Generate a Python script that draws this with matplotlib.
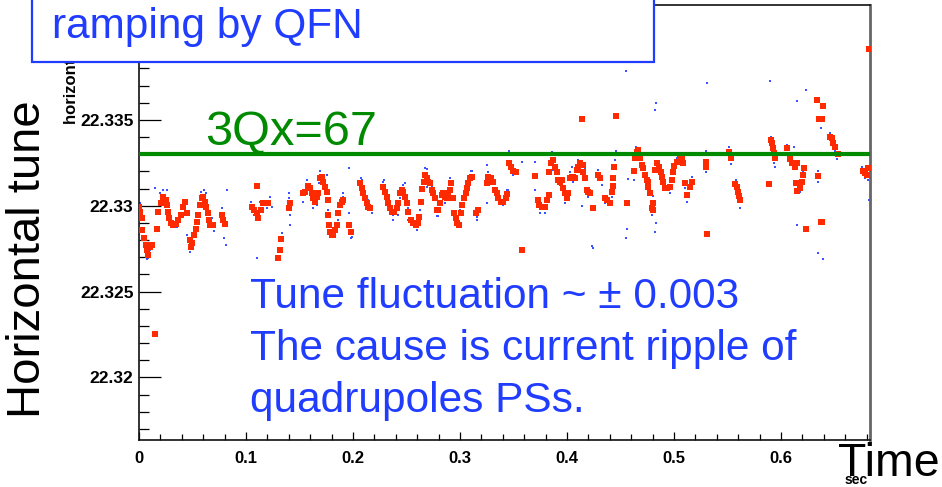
import matplotlib
matplotlib.use('Agg')
from matplotlib import pyplot as plt
from matplotlib.patches import Rectangle
from matplotlib.ticker import MultipleLocator

plt.rcParams['font.family'] = ['Liberation Sans', 'DejaVu Sans']

# tune measured during ramping (red: fitted peak, blue: raw)
red_t = [
    0.0000, 0.0009, 0.0028, 0.0028, 0.0047, 0.0065, 0.0075, 0.0084,
    0.0103, 0.0121, 0.0150, 0.0168, 0.0178, 0.0206, 0.0224, 0.0252,
    0.0262, 0.0271, 0.0280, 0.0299, 0.0318, 0.0346, 0.0364, 0.0393,
    0.0411, 0.0430, 0.0449, 0.0477, 0.0486, 0.0495, 0.0514, 0.0533,
    0.0542, 0.0551, 0.0570, 0.0589, 0.0598, 0.0617, 0.0626, 0.0645,
    0.0654, 0.0664, 0.0692, 0.0776, 0.0785, 0.0804, 0.1056, 0.1075,
    0.1103, 0.1103, 0.1112, 0.1140, 0.1159, 0.1187, 0.1206, 0.1299,
    0.1318, 0.1327, 0.1402, 0.1411, 0.1533, 0.1551, 0.1579, 0.1598,
    0.1617, 0.1626, 0.1645, 0.1664, 0.1673, 0.1692, 0.1710, 0.1720,
    0.1738, 0.1757, 0.1766, 0.1766, 0.1776, 0.1785, 0.1804, 0.1813,
    0.1832, 0.1850, 0.1860, 0.1879, 0.1897, 0.1907, 0.1963, 0.1981,
    0.2065, 0.2084, 0.2093, 0.2112, 0.2131, 0.2140, 0.2159, 0.2280,
    0.2299, 0.2318, 0.2327, 0.2346, 0.2364, 0.2383, 0.2411, 0.2421,
    0.2439, 0.2458, 0.2467, 0.2486, 0.2505, 0.2514, 0.2542, 0.2561,
    0.2589, 0.2607, 0.2617, 0.2636, 0.2645, 0.2664, 0.2673, 0.2692,
    0.2701,
    0.2720, 0.2738, 0.2748, 0.2766, 0.2785, 0.2794, 0.2813, 0.2832,
    0.2841, 0.2860, 0.2879, 0.2888, 0.2907, 0.2916, 0.2935, 0.2944,
    0.2963, 0.2972, 0.2991, 0.3009, 0.3019, 0.3037, 0.3056, 0.3065,
    0.3075, 0.3093, 0.3112, 0.3150, 0.3168, 0.3252, 0.3262, 0.3290,
    0.3308, 0.3327, 0.3346, 0.3355, 0.3383, 0.3402, 0.3430, 0.3439,
    0.3458, 0.3477, 0.3495, 0.3523, 0.3579, 0.3701, 0.3729, 0.3738,
    0.3766, 0.3794, 0.3813, 0.3832, 0.3832, 0.3850, 0.3869, 0.3888,
    0.3907, 0.3916, 0.3935, 0.3953, 0.3963, 0.3981, 0.4000, 0.4009,
    0.4028, 0.4047,
    0.4056, 0.4075, 0.4093, 0.4103, 0.4121, 0.4140, 0.4150, 0.4150,
    0.4168, 0.4187, 0.4196, 0.4215, 0.4243, 0.4290, 0.4308, 0.4355,
    0.4374, 0.4402, 0.4421, 0.4430, 0.4430, 0.4439, 0.4458, 0.4561,
    0.4626, 0.4636, 0.4654, 0.4664, 0.4682, 0.4701, 0.4710, 0.4729,
    0.4748, 0.4757, 0.4757, 0.4776, 0.4794, 0.4804, 0.4804, 0.4822,
    0.4841, 0.4860, 0.4879, 0.4888, 0.4897, 0.4916, 0.4935, 0.4963,
    0.4981, 0.4991, 0.5000, 0.5028, 0.5056, 0.5075, 0.5084, 0.5103,
    0.5121, 0.5150, 0.5168, 0.5299, 0.5299, 0.5308,
    0.5514, 0.5533, 0.5570, 0.5589, 0.5598, 0.5607, 0.5617, 0.5888,
    0.5907, 0.5916, 0.5925, 0.5935, 0.5944, 0.6056, 0.6084, 0.6103,
    0.6131, 0.6150, 0.6140, 0.6150, 0.6178, 0.6196, 0.6206, 0.6215,
    0.6234, 0.6336, 0.6355, 0.6383, 0.6393, 0.6346, 0.6374, 0.6383,
    0.6458, 0.6477, 0.6486, 0.6505, 0.6533, 0.6766, 0.6785, 0.6804,
    0.6813, 0.6822,
]
red_q = [
    22.32994, 22.32965, 22.32930, 22.32860, 22.32814, 22.32773, 22.32744, 22.32715,
    22.32762, 22.32773, 22.32256, 22.32866, 22.32965, 22.33017, 22.33052, 22.33035,
    22.33006, 22.32965, 22.32930, 22.32901, 22.32890, 22.32895, 22.32919, 22.32948,
    22.32994, 22.33023, 22.32959, 22.32802, 22.32762, 22.32785, 22.32831, 22.32866,
    22.32907, 22.32948, 22.33006, 22.33047, 22.33052, 22.33023, 22.32994, 22.32959,
    22.32919, 22.32890, 22.32890, 22.32948, 22.32919, 22.32895, 22.32994, 22.32977,
    22.32959, 22.33116, 22.32930, 22.32977, 22.33017, 22.33017, 22.33017, 22.32698,
    22.32744, 22.32808, 22.32988, 22.33017, 22.33076, 22.33081, 22.33116, 22.33105,
    22.33076, 22.33047, 22.33023, 22.33052, 22.33076, 22.33163, 22.33169, 22.33140,
    22.33110, 22.33081, 22.33035, 22.32948, 22.32890, 22.32849, 22.32831, 22.32843,
    22.32860, 22.32890, 22.32959, 22.33006, 22.33023, 22.33035, 22.32890, 22.32849,
    22.33134, 22.33105, 22.33076, 22.33047, 22.33017, 22.32994, 22.32988, 22.33110,
    22.33081, 22.33052, 22.33017, 22.32988, 22.32965, 22.32965, 22.32988, 22.33017,
    22.33076, 22.33093, 22.33081, 22.33052, 22.33017, 22.32965, 22.32919, 22.32901,
    22.32890, 22.32901, 22.32936, 22.33023, 22.33099, 22.33140, 22.33180, 22.33163,
    22.33140,
    22.33134, 22.33093, 22.33076, 22.33047, 22.32977, 22.32977, 22.33017, 22.33064,
    22.33076, 22.33052, 22.33047, 22.33076, 22.33093, 22.33134, 22.33047, 22.32959,
    22.32930, 22.32901, 22.32890, 22.32959, 22.33006, 22.33047, 22.33076, 22.33105,
    22.33134, 22.33163, 22.33169, 22.32959, 22.32977, 22.33134, 22.33169, 22.33163,
    22.33140, 22.33093, 22.33076, 22.33047, 22.33023, 22.33023, 22.33047, 22.33070,
    22.33250, 22.33227, 22.33203, 22.33198, 22.32744, 22.33174, 22.33035, 22.33006,
    22.32994, 22.32994, 22.33035, 22.33064, 22.33198, 22.33250, 22.33267, 22.33227,
    22.33198, 22.33151, 22.33140, 22.33151, 22.33105, 22.33076, 22.33047, 22.33076,
    22.33163, 22.33169,
    22.33169, 22.33163, 22.33209, 22.33227, 22.33250, 22.33506, 22.33238, 22.33198,
    22.33163, 22.33093, 22.33081, 22.33076, 22.32988, 22.33180, 22.33163, 22.33047,
    22.33035, 22.33017, 22.33081, 22.33116, 22.33163, 22.33227, 22.33523, 22.33017,
    22.33203, 22.33279, 22.33314, 22.33326, 22.33279, 22.33238, 22.33221, 22.33180,
    22.33151, 22.33140, 22.33110, 22.33076, 22.32988, 22.32977, 22.33017, 22.33209,
    22.33250, 22.33227, 22.33198, 22.33169, 22.33140, 22.33105, 22.33105, 22.33110,
    22.33151, 22.33198, 22.33233, 22.33256, 22.33279, 22.33279, 22.33250, 22.33134,
    22.33064, 22.33110, 22.33140, 22.33256, 22.33227, 22.32837,
    22.33314, 22.33279, 22.33128, 22.33110, 22.33081, 22.33058, 22.33035, 22.33128,
    22.33384, 22.33366, 22.33337, 22.33308, 22.33279, 22.33337, 22.33273, 22.33250,
    22.33227, 22.33250, 22.33134, 22.33087, 22.33105, 22.33140, 22.33180, 22.33221,
    22.32866, 22.33616, 22.33506, 22.33506, 22.33581, 22.33174, 22.32907, 22.32907,
    22.33401, 22.33395, 22.33366, 22.33343, 22.33302, 22.33203, 22.33192, 22.33180,
    22.33221, 22.33913,
]

blue_t = [
    0.0009, 0.0056, 0.0075, 0.0084, 0.0103, 0.0131, 0.0150, 0.0196, 0.0224, 0.0262,
    0.0271, 0.0355, 0.0411, 0.0449, 0.0477, 0.0523, 0.0579, 0.0607, 0.0626, 0.0682,
    0.0701, 0.0776, 0.0794, 0.0804, 0.0813, 0.0822, 0.1047, 0.1075, 0.1103, 0.1131,
    0.1196, 0.1224, 0.1243, 0.1336, 0.1402, 0.1402, 0.1411, 0.1411, 0.1533, 0.1570,
    0.1626, 0.1664, 0.1682, 0.1692, 0.1757, 0.1766, 0.1785, 0.1832, 0.1860, 0.1907,
    0.1907, 0.1963, 0.1963, 0.1981, 0.1991, 0.2075, 0.2084, 0.2140, 0.2178, 0.2280,
    0.2290, 0.2327, 0.2374, 0.2374, 0.2421, 0.2439, 0.2467, 0.2486, 0.2514, 0.2514,
    0.2598, 0.2626, 0.2654, 0.2673, 0.2692, 0.2692, 0.2738, 0.2785, 0.2794, 0.2860,
    0.2907, 0.2953, 0.3000, 0.3075, 0.3103, 0.3112, 0.3159, 0.3159, 0.3252, 0.3252,
    0.3262, 0.3308, 0.3402, 0.3439, 0.3449, 0.3458, 0.3495, 0.3579, 0.3701, 0.3701,
    0.3748, 0.3794, 0.3850, 0.3860, 0.3869, 0.3935, 0.3981, 0.4028, 0.4047, 0.4056,
    0.4103, 0.4140, 0.4168, 0.4196, 0.4234, 0.4243, 0.4290, 0.4327, 0.4355, 0.4421,
    0.4449, 0.4458, 0.4551, 0.4551, 0.4561, 0.4570, 0.4626, 0.4645, 0.4701, 0.4757,
    0.4794, 0.4804, 0.4822, 0.4832, 0.4822, 0.4832, 0.4850, 0.4897, 0.4963, 0.5028,
    0.5103, 0.5121, 0.5168, 0.5299, 0.5299, 0.5308, 0.5514, 0.5533, 0.5579, 0.5598,
    0.5617, 0.5897, 0.5907, 0.5935, 0.5944, 0.6056, 0.6121, 0.6150, 0.6150, 0.6178,
    0.6206, 0.6234, 0.6346, 0.6346, 0.6346, 0.6374, 0.6393, 0.6458, 0.6505, 0.6523,
    0.6757, 0.6785, 0.6813, 0.6822,
]
blue_q = [
    22.33017, 22.32733, 22.32692, 22.32698, 22.32744, 22.32785, 22.33105, 22.33076, 22.33093, 22.33093,
    22.33023, 22.32878, 22.33035, 22.32831, 22.32733, 22.32831, 22.33081, 22.33093, 22.33076, 22.32930,
    22.32855, 22.32988, 22.32814, 22.32890, 22.32773, 22.33093, 22.33023, 22.32948, 22.32698, 22.33023,
    22.32988, 22.33052, 22.32994, 22.32843, 22.33076, 22.33047, 22.32948, 22.32890, 22.33023, 22.33151,
    22.32988, 22.33006, 22.33134, 22.33203, 22.33180, 22.32977, 22.32820, 22.32820, 22.32919, 22.33076,
    22.33052, 22.33221, 22.32959, 22.32814, 22.32820, 22.33163, 22.33151, 22.33035, 22.32959, 22.33140,
    22.33151, 22.32988, 22.32948, 22.32919, 22.32948, 22.33047, 22.33122, 22.33134, 22.32988, 22.32919,
    22.32860, 22.32977, 22.33192, 22.33221, 22.33215, 22.33110, 22.33110, 22.32942, 22.32942, 22.33017,
    22.33163, 22.32936, 22.32977, 22.33151, 22.33203, 22.33203, 22.32936, 22.32919, 22.33238, 22.33017,
    22.33198, 22.33105, 22.33006, 22.33093, 22.33093, 22.33320, 22.33180, 22.33256, 22.33256, 22.33093,
    22.32959, 22.32959, 22.33308, 22.33314, 22.33209, 22.33122, 22.33017, 22.33198, 22.33227, 22.33140,
    22.33267, 22.33000, 22.33221, 22.33052, 22.32767, 22.32756, 22.33209, 22.33122, 22.33017, 22.33052,
    22.33267, 22.33320, 22.33785, 22.32814, 22.32866, 22.33157, 22.33151, 22.33343, 22.33267, 22.33163,
    22.32948, 22.33058, 22.33558, 22.33599, 22.32849, 22.32901, 22.33256, 22.33122, 22.33076, 22.33279,
    22.33105, 22.33023, 22.33169, 22.33320, 22.33198, 22.33715, 22.33343, 22.33244, 22.33151, 22.33052,
    22.32988, 22.33727, 22.33401, 22.33250, 22.33227, 22.33355, 22.33343, 22.33610, 22.32890, 22.33081,
    22.33198, 22.33674, 22.33203, 22.33140, 22.32727, 22.33453, 22.32692, 22.33424, 22.33320, 22.33273,
    22.33227, 22.33163, 22.33151, 22.33035,
]

resonance = 22.333   # 3Qx = 67
x_ticks = [0, 0.1, 0.2, 0.3, 0.4, 0.5, 0.6]
x_tick_labels = ['0', '0.1', '0.2', '0.3', '0.4', '0.5', '0.6']
y_ticks = [22.32, 22.325, 22.33, 22.335]
y_tick_labels = ['22.32', '22.325', '22.33', '22.335']

assert len(red_t) == len(red_q) and len(blue_t) == len(blue_q)

W, H = 942, 487
fig = plt.figure(figsize=(W / 100, H / 100), dpi=100)
ax = fig.add_axes([139 / W, 47 / H, 731 / W, 435 / H])

ax.plot(blue_t, blue_q, 's', ms=1.5, mew=0, color='#3a52ff', zorder=2)
ax.plot(red_t, red_q, 's', ms=3.9, mew=0, color='#ff2a00', zorder=3)
ax.axhline(resonance, color='#008a00', lw=3.0, zorder=4)

ax.set_xlim(0, 0.6832)
ax.set_ylim(22.31636, 22.34169)

ax.set_xticks(x_ticks)
ax.set_xticklabels(x_tick_labels)
ax.set_yticks(y_ticks)
ax.set_yticklabels(y_tick_labels)
ax.xaxis.set_minor_locator(MultipleLocator(0.02))
ax.yaxis.set_minor_locator(MultipleLocator(0.001))
ax.tick_params(axis='both', which='both', direction='in', width=0.9, color='black',
               top=False, right=False)
ax.tick_params(axis='x', which='major', length=5.8, pad=8, labelsize=12)
ax.tick_params(axis='x', which='minor', length=4.3)
ax.tick_params(axis='y', which='major', length=15.8, pad=4, labelsize=12.5)
ax.tick_params(axis='y', which='minor', length=7.5)
for lab in ax.get_xticklabels() + ax.get_yticklabels():
    lab.set_fontweight('bold')

for side in ['left', 'bottom', 'top']:
    ax.spines[side].set_color('#111111')
    ax.spines[side].set_linewidth(1.2)
ax.spines['right'].set_color('#666666')
ax.spines['right'].set_linewidth(2.0)

# ROOT axis titles (partly hidden under the slide box, as on the slide)
fig.text(71 / W, 1 - 5 / H, 'horizontal tune', rotation=90, ha='center', va='top',
         fontsize=12, fontweight='bold')
fig.text(868 / W, 0.0, 'sec', ha='right', va='bottom', fontsize=10, fontweight='bold')

# slide annotations
box = Rectangle((32 / W, 1 - 62 / H), 622 / W, 70 / H, transform=fig.transFigure,
                facecolor='white', edgecolor='#1f3cff', lw=1.6, zorder=10)
fig.add_artist(box)
fig.text(52 / W, 1 - 38 / H, 'ramping by QFN', color='#1f3cff', fontsize=30.5,
         va='baseline', ha='left', zorder=11)

ax.text(0.0617, 22.33355, '3Qx=67', color='#008a00', fontsize=35, va='baseline',
        ha='left', zorder=5)

fig.text(6 / W, 0.468, 'Horizontal tune', rotation=90, ha='left', va='center',
         fontsize=34, color='black')
fig.text(838 / W, 1 - 476 / H, 'Time', ha='left', va='baseline', fontsize=33.5,
         color='black')

note = ['Tune fluctuation ~ \u00b1 0.003',
        'The cause is current ripple of',
        'quadrupoles PSs.']
for i, line in enumerate(note):
    fig.text(250 / W, 1 - (308 + 52 * i) / H, line, color='#1f3cff', fontsize=30.5,
             va='baseline', ha='left')

fig.savefig('out.png', dpi=100, facecolor='white')
